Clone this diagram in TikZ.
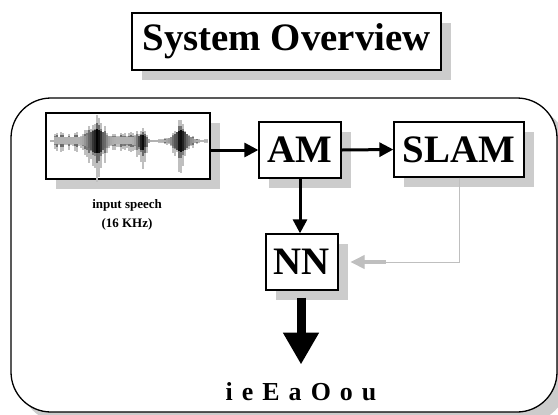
\documentclass[tikz,border=0pt]{standalone}
\usepackage{fontspec}
\setmainfont{Liberation Serif}
\usetikzlibrary{arrows.meta,shadows}
\begin{document}
\begin{tikzpicture}[x=1bp,y=-1bp,
  shade10/.style={general shadow={fill=black!20, shadow xshift=10bp, shadow yshift=-10bp}},
  sbox/.style={draw, line width=1.3bp, fill=white, inner sep=0pt, shade10,
    font=\bfseries\fontsize{39}{40}\selectfont},
  arr/.style={line width=3bp, -{Triangle[length=14bp,width=14bp]}},
  lightarr/.style={draw=black!25, line width=1bp, -{Triangle[length=14bp,width=14bp]}},
  bigarr/.style={line width=9bp, -{Triangle[length=32bp,width=34bp]}},
]
\useasboundingbox (0,0) rectangle (558,414);
% outer frame
\draw[line width=1.3bp, fill=white, rounded corners=40bp, shade10] (11,98) rectangle (557,412);
% title
\node[sbox, minimum width=309bp, minimum height=57bp] (title) at (286.5,41.5) {System Overview};
% spectrogram box
\node[draw, line width=1.3bp, fill=white, inner sep=0pt, shade10,
      minimum width=164bp, minimum height=66bp] (spec) at (128,146) {};
\begin{scope}
\pgfmathsetseed{12}
\foreach \x in {50,52,...,206}{
  \pgfmathsetmacro{\ga}{exp(-min(((\x-96)/9)^2,9))}
  \pgfmathsetmacro{\gb}{exp(-min(((\x-141)/5)^2,9))}
  \pgfmathsetmacro{\gc}{exp(-min(((\x-180)/9)^2,9))}
  \pgfmathsetmacro{\band}{(\x>53)*(\x<137)}
  \pgfmathsetmacro{\up}{2+7*\band+17*\ga+12*\gb+22*\gc}
  \pgfmathsetmacro{\lo}{2+9*\band+30*\ga+28*\gb+34*\gc}
  \pgfmathsetmacro{\r}{0.35+0.65*rnd}
  \pgfmathsetmacro{\core}{max(\ga,\gb,\gc)}
  \pgfmathtruncatemacro{\dk}{30+70*\core*(0.5+0.5*\r)}
  \pgfmathtruncatemacro{\md}{25+35*\r}
  \fill[black!25] (\x,141-\up*\r) rectangle (\x+2,141+\lo*\r);
  \fill[black!\md] (\x,141-0.7*\up*\r) rectangle (\x+2,141+0.55*\lo*\r);
  \fill[black!\dk] (\x,141-0.45*\up) rectangle (\x+2,141+0.3*\lo);
}
\end{scope}
\node[font=\bfseries\fontsize{13}{19}\selectfont, align=center] (lbl) at (127,215) {input speech\\(16 KHz)};
% processing boxes
\node[sbox, minimum width=82bp, minimum height=56bp] (AM) at (300,150) {AM};
\node[sbox, minimum width=130bp, minimum height=55bp] (SLAM) at (459,149.5) {SLAM};
\node[sbox, minimum width=72bp, minimum height=56bp] (NN) at (302,262) {NN};
% output
\node[font=\bfseries\fontsize{26}{28}\selectfont\addfontfeature{LetterSpace=10}, anchor=base] (out) at (301,400) {i e E a O o u};
% connectors
\draw[arr] (spec.east |- AM.west) -- (AM.west);
\draw[arr] (AM.east) -- (SLAM.west);
\draw[arr] (AM.south) -- (AM.south |- NN.north);
\draw[lightarr] (SLAM.south) |- ([xshift=12bp]NN.east);
\draw[draw=black!25, line width=4bp] ([xshift=24bp]NN.east) -- ([xshift=47bp]NN.east);
\draw[bigarr, shorten <=7bp, shorten >=14bp] (NN.south -| out.north) -- (out.north);
\end{tikzpicture}
\end{document}
